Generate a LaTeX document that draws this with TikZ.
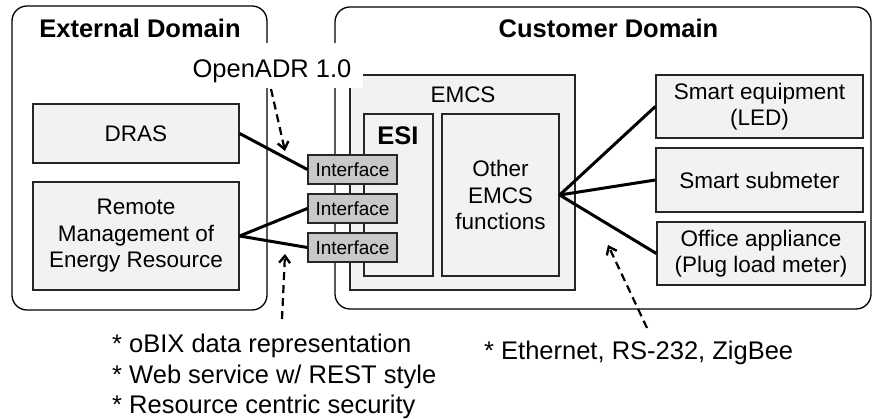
\documentclass[tikz,border=0pt]{standalone}
\usepackage{fontspec}
\setmainfont{Liberation Sans}
\usetikzlibrary{arrows.meta}
\definecolor{boxfill}{HTML}{F2F2F2}
\definecolor{iffill}{HTML}{C8C8C8}
\tikzset{
  dombox/.style={draw=black, line width=1.3pt, rounded corners=15pt, fill=white, inner sep=0pt},
  plainbox/.style={draw=black!85, line width=1.3pt, fill=boxfill, inner sep=0pt, align=center,
     font=\fontsize{22.5}{26.5}\selectfont},
  ifbox/.style={draw=black!85, line width=1.3pt, fill=iffill, inner sep=0pt,
     minimum width=89pt, minimum height=29pt, font=\fontsize{19}{22}\selectfont},
  titletext/.style={font=\fontsize{25.5}{28}\selectfont\bfseries, anchor=base, inner sep=0pt},
  notetext/.style={font=\fontsize{25.5}{30.5}\selectfont, inner sep=0pt},
  conn/.style={line width=3pt},
  hintarrow/.style={line width=2.2pt, dash pattern=on 8pt off 5pt,
     -{Straight Barb[length=7pt,width=11pt,line width=2.4pt]}}
}
\begin{document}
\begin{tikzpicture}[x=1pt,y=-1pt]
\useasboundingbox (0,0) rectangle (873,419);
% domains
\node[dombox, minimum width=255pt, minimum height=304pt] (ext) at (139.5,158) {};
\node[dombox, minimum width=536pt, minimum height=302pt] (cust) at (603,158) {};
\node[titletext] (extlbl) at (140,38) {External Domain};
\node[titletext] (custlbl) at (608.5,38) {Customer Domain};
% EMCS
\node[plainbox, minimum width=225pt, minimum height=215pt] (emcs) at (462.5,182.5) {};
% white background behind OpenADR label
\fill[white] (185,43) rectangle (363,88);
\node[notetext, anchor=base] (openadr) at (272,78) {OpenADR 1.0};
\node[inner sep=0pt, anchor=base, font=\fontsize{22.5}{26}\selectfont] (emcslbl) at (463,103) {EMCS};
\node[plainbox, minimum width=69pt, minimum height=162pt] (esi) at (398.5,195) {};
\node[titletext] (esilbl) at (398,145) {ESI};
\node[plainbox, minimum width=117pt, minimum height=162pt] (other) at (500.5,195) {Other\\EMCS\\functions};
% external boxes
\node[plainbox, minimum width=206pt, minimum height=59pt] (dras) at (136,133.5) {DRAS};
\node[plainbox, minimum width=206pt, minimum height=108pt] (remote) at (136,236) {Remote\\Management of\\Energy Resource};
% customer devices
\node[plainbox, minimum width=207pt, minimum height=63pt] (smart) at (759.5,106.5) {Smart equipment\\(LED)};
\node[plainbox, minimum width=207pt, minimum height=64pt] (submeter) at (759.5,180) {Smart submeter};
\node[plainbox, minimum width=208pt, minimum height=63pt] (office) at (761,253.5) {Office appliance\\(Plug load meter)};
% connectors
\draw[conn] (other.east) -- (smart.west);
\draw[conn] (other.east) -- (submeter.west);
\draw[conn] (other.east) -- (office.west);
% interfaces
\node[ifbox] (if1) at (352.5,169.5) {Interface};
\node[ifbox] (if2) at (352.5,208.5) {Interface};
\node[ifbox] (if3) at (352.5,247.5) {Interface};
\draw[conn] (dras.east) -- (if1.west);
\draw[conn] (remote.east) -- (if2.west);
\draw[conn] (remote.east) -- (if3.west);
% annotations
\node[notetext, anchor=north west, align=left] (obix) at (112,334)
  {* oBIX data representation\\* Web service w/ REST style\\* Resource centric security};
\node[notetext, anchor=base west] (eth) at (484,360) {* Ethernet, RS-232, ZigBee};
\coordinate (a1s) at (271,89);
\coordinate (a1e) at (285,151);
\coordinate (a2s) at (282,319);
\coordinate (a2e) at (285,254);
\coordinate (a3s) at (647,328);
\coordinate (a3e) at (608,245);
\draw[hintarrow] (a1s) -- (a1e);
\draw[hintarrow] (a2s) -- (a2e);
\draw[hintarrow] (a3s) -- (a3e);
\end{tikzpicture}
\end{document}
